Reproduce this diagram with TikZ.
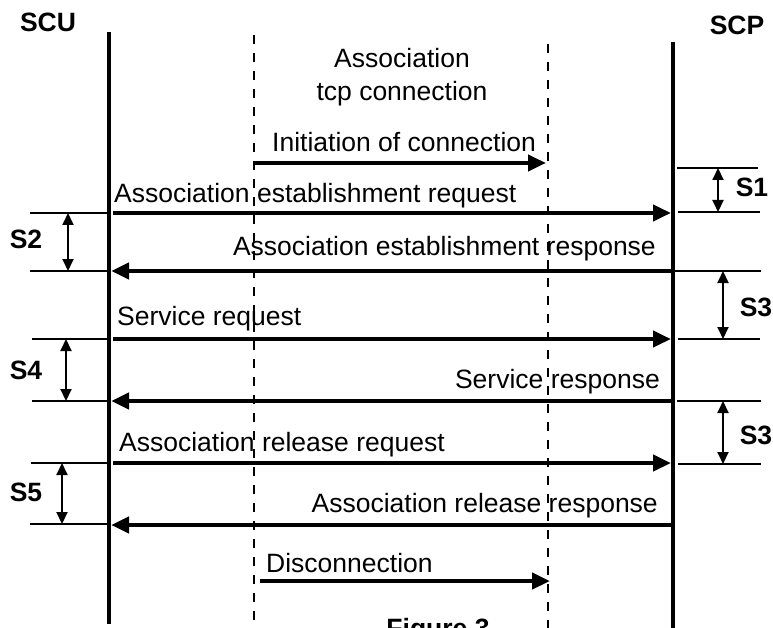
\documentclass[tikz,border=0pt]{standalone}
\usepackage{fontspec}
\setmainfont{Liberation Sans}
\usetikzlibrary{arrows.meta,positioning}

\tikzset{
  lifeline/.style={line width=4.5pt},
  tcpline/.style={line width=2pt, dash pattern=on 9pt off 9pt},
  msg/.style={line width=4.5pt, -{Triangle[length=18pt,width=16pt]}},
  tickline/.style={line width=2pt},
  gap/.style={line width=2pt, {Triangle[length=12pt,width=11pt]}-{Triangle[length=12pt,width=11pt]}},
  lbl/.style={font=\fontsize{26.5}{31}\selectfont, inner sep=0pt},
  tag/.style={font=\fontsize{26.5}{31}\selectfont\bfseries, inner sep=0pt}
}

\begin{document}
\begin{tikzpicture}[x=1pt, y=-1pt]
      \useasboundingbox (0,0) rectangle (773,628);
      % entities and lifelines
      \node[tag] (scu) at (48,22) {SCU};
      \node[tag] (scp) at (737,25) {SCP};
      \coordinate (scu top) at (109,32);  \coordinate (scu bot) at (109,624);
      \coordinate (scp top) at (673,42);  \coordinate (scp bot) at (673,628);
      \coordinate (tcp1 top) at (254,35); \coordinate (tcp1 bot) at (254,628);
      \coordinate (tcp2 top) at (548,44); \coordinate (tcp2 bot) at (548,628);
      \path (scu top) edge[lifeline] (scu bot);
      \path (scp top) edge[lifeline] (scp bot);
      \path (tcp1 top) edge[tcpline] (tcp1 bot);
      \path (tcp2 top) edge[tcpline] (tcp2 bot);
      \node[lbl, align=center] (tcp) at (402,77) {Association\\[2pt]tcp connection};
      % messages
      \begin{scope}[every node/.style={lbl}]
        \coordinate (m1a) at (255,163); \coordinate (m1b) at (546,163);
        \coordinate (m2a) at (113,213); \coordinate (m2b) at (671,213);
        \coordinate (m3a) at (671,271); \coordinate (m3b) at (111,271);
        \coordinate (m4a) at (113,339); \coordinate (m4b) at (671,339);
        \coordinate (m5a) at (671,401); \coordinate (m5b) at (111,401);
        \coordinate (m6a) at (113,463); \coordinate (m6b) at (671,463);
        \coordinate (m7a) at (671,525); \coordinate (m7b) at (111,525);
        \coordinate (m8a) at (260,581); \coordinate (m8b) at (550,581);
        \path (m1a) edge[msg] (m1b);
        \path (m2a) edge[msg] (m2b);
        \path (m3a) edge[msg] (m3b);
        \path (m4a) edge[msg] (m4b);
        \path (m5a) edge[msg] (m5b);
        \path (m6a) edge[msg] (m6b);
        \path (m7a) edge[msg] (m7b);
        \path (m8a) edge[msg] (m8b);
        \node[anchor=base west] (t1) at (272,152) {Initiation of connection};
        \node[anchor=base west] (t2) at (114,203) {Association establishment request};
        \node[anchor=base east] (t3) at (656,255) {Association establishment response};
        \node[anchor=base west] (t4) at (117,325) {Service request};
        \node[anchor=base east] (t5) at (660,388) {Service response};
        \node[anchor=base west] (t6) at (119,451) {Association release request};
        \node[anchor=base east] (t7) at (658,512) {Association release response};
        \node[anchor=base west] (t8) at (266,572) {Disconnection};
      \end{scope}
      % waiting times
      \begin{scope}[every node/.style={tag}]
        \coordinate (s1a) at (677,168); \coordinate (s1b) at (758,168);
        \coordinate (s1c) at (678,212); \coordinate (s1d) at (760,212);
        \coordinate (s1u) at (718,168); \coordinate (s1l) at (718,212);
        \path (s1a) edge[tickline] (s1b);
        \path (s1c) edge[tickline] (s1d);
        \path (s1u) edge[gap] (s1l);
        \node (s1) at (752,187) {S1};
        \coordinate (s2a) at (30,213);  \coordinate (s2b) at (108,213);
        \coordinate (s2c) at (30,271);  \coordinate (s2d) at (108,271);
        \coordinate (s2u) at (68,213);  \coordinate (s2l) at (68,271);
        \path (s2a) edge[tickline] (s2b);
        \path (s2c) edge[tickline] (s2d);
        \path (s2u) edge[gap] (s2l);
        \node (s2) at (26,239) {S2};
        \coordinate (s3a) at (673,271); \coordinate (s3b) at (761,271);
        \coordinate (s3c) at (678,339); \coordinate (s3d) at (760,339);
        \coordinate (s3u) at (723,271); \coordinate (s3l) at (723,339);
        \path (s3a) edge[tickline] (s3b);
        \path (s3c) edge[tickline] (s3d);
        \path (s3u) edge[gap] (s3l);
        \node (s3) at (756,307) {S3};
        \coordinate (s4a) at (32,339);  \coordinate (s4b) at (108,339);
        \coordinate (s4c) at (32,401);  \coordinate (s4d) at (108,401);
        \coordinate (s4u) at (66,339);  \coordinate (s4l) at (66,401);
        \path (s4a) edge[tickline] (s4b);
        \path (s4c) edge[tickline] (s4d);
        \path (s4u) edge[gap] (s4l);
        \node (s4) at (26,370) {S4};
        \coordinate (s3e) at (677,401); \coordinate (s3f) at (761,401);
        \coordinate (s3g) at (678,464); \coordinate (s3h) at (761,464);
        \coordinate (s3v) at (723,401); \coordinate (s3m) at (723,464);
        \path (s3e) edge[tickline] (s3f);
        \path (s3g) edge[tickline] (s3h);
        \path (s3v) edge[gap] (s3m);
        \node (s3 again) at (756,435) {S3};
        \coordinate (s5a) at (31,463);  \coordinate (s5b) at (108,463);
        \coordinate (s5c) at (30,524);  \coordinate (s5d) at (108,524);
        \coordinate (s5u) at (62,463);  \coordinate (s5l) at (62,524);
        \path (s5a) edge[tickline] (s5b);
        \path (s5c) edge[tickline] (s5d);
        \path (s5u) edge[gap] (s5l);
        \node (s5) at (26,492) {S5};
      \end{scope}
      \node[tag, anchor=base] (fig) at (438,637) {Figure 3};
    \end{tikzpicture}
\end{document}
